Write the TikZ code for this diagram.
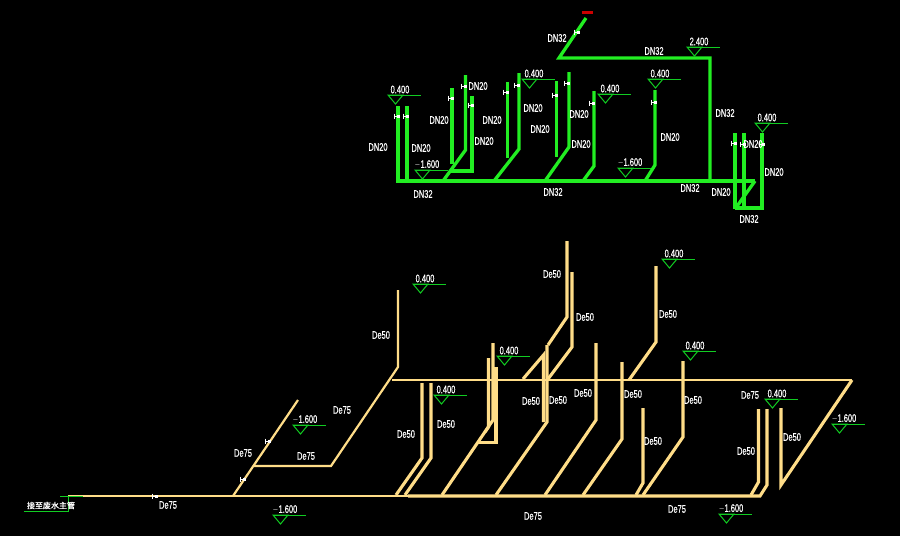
\documentclass[tikz,border=0pt]{standalone}
\usepackage{fontspec}
\setmainfont{Liberation Sans}
\newfontfamily\labfont[FakeBold=0.5]{Liberation Sans}
\newfontfamily\cjk[FakeBold=1.2]{Noto Sans CJK SC}
\definecolor{gpipe}{HTML}{22EE22}
\definecolor{ypipe}{HTML}{FFDD88}
\definecolor{gline}{HTML}{11CC22}
\tikzset{
  gp/.style={draw=gpipe,line width=3.3pt,line join=miter},
  yp/.style={draw=ypipe,line width=3.1pt,line join=miter},
  ypthin/.style={draw=ypipe,line width=2.2pt},
  lvl/.style={draw=gline,line width=1pt},
  lab/.style={text=white,font=\labfont\fontsize{11}{11}\selectfont,inner sep=0pt,xscale=.68,transform shape},
  vlv/.style={draw=white,line width=1pt},
}
\newcommand{\elev}[3]{%
  \draw[lvl] (#1,#2) -- ++(33,0);
  \draw[lvl] (#1,#2) -- ++(15,0) -- ++(-7.5,9) -- cycle;
  \node[lab] at (#1+12,#2-5.5) {#3};
}
\newcommand{\valve}[2]{%
  \draw[vlv] (#1-3,#2-2.5) -- (#1-3,#2+2.5) (#1-3,#2) -- (#1+3,#2);
  \fill[white] (#1,#2-1.5) rectangle (#1+2.5,#2+1.5);
}
\begin{document}
\begin{tikzpicture}[x=1pt,y=-1pt]
\useasboundingbox (0,0) rectangle (900,536);
\fill[black] (0,0) rectangle (900,536);
% green pipework
\draw[gp] (398,181) -- (755,181);
\draw[gp] (398,183) -- (398,106);
\draw[gp] (407,183) -- (407,106);
\draw[gp] (443,181) -- (465.5,150) -- (465.5,75);
\draw[gp] (452,88) -- (452,164);
\draw[gp] (451,171) -- (472,171) -- (472,96);
\draw[gp] (494,181) -- (519,149) -- (519,73);
\draw[gp] (507.5,82) -- (507.5,158);
\draw[gp] (545,181) -- (569,147) -- (569,72);
\draw[gp] (556.5,81) -- (556.5,157);
\draw[gp] (583,181) -- (594,166) -- (594,91);
\draw[gp] (645,181) -- (655,165) -- (655,90);
\draw[gp] (710,181) -- (710,58) -- (559,58) -- (586,18);
\draw[gp] (735,133) -- (735,209);
\draw[gp] (744,133) -- (744,208);
\draw[gp] (735,208) -- (762,208) -- (762,133);
\draw[gp] (735,209) -- (755,181);
\fill[red!80!black] (582,11) rectangle (593,14);
\foreach \a/\b in {397/116,406/116,451/98,464/86,471/105,506/92,517/85,555/95,567/83,592/103,654/102,734/143,743/144,762/144,577/32}{\valve{\a}{\b}}
% green labels
\foreach \a/\b/\t in {378/147/DN20,421/148/DN20,439/120/DN20,478/86/DN20,484/141/DN20,492/120/DN20,533/108/DN20,540/129/DN20,579/114/DN20,581/144/DN20,670/137/DN20,721/192/DN20,753/144/DN20,774/172/DN20,557/38/DN32,423/194/DN32,553/192/DN32,654/51/DN32,725/113/DN32,690/188/DN32,749/219/DN32}{\node[lab] at (\a,\b) {\t};}
\elev{388}{95}{0.400}
\elev{415}{170}{$-$1.600}
\elev{522}{79}{0.400}
\elev{598}{94}{0.400}
\elev{687}{47}{2.400}
\elev{648}{79}{0.400}
\elev{618}{168}{$-$1.600}
\elev{755}{123}{0.400}
% yellow pipework
\draw[ypthin] (68,496) -- (408,496);
\draw[yp] (408,496) -- (760,496) -- (767,485) -- (767,409);
\draw[yp] (751,495) -- (758.5,482) -- (758.5,409);
\draw[ypthin] (233,496) -- (298,400);
\draw[ypthin] (254,466) -- (331,466) -- (398,367) -- (398,290);
\draw[ypthin] (392,380) -- (852,380);
\draw[yp] (852,380) -- (781,485) -- (781,408);
\draw[yp] (396,495) -- (422,458) -- (422,383);
\draw[yp] (405,495) -- (431,458) -- (431,383);
\draw[yp] (442,495) -- (493,420) -- (493,343);
\draw[yp] (485,432) -- (488.5,427) -- (488.5,358);
\draw[yp] (478,442.5) -- (496,442.5) -- (496,367);
\draw[yp] (496,495) -- (547,422) -- (547,345);
\draw[yp] (523,379) -- (543.5,355) -- (543.5,422);
\draw[yp] (545,495) -- (596,420) -- (596,343);
\draw[yp] (583,495) -- (622,439) -- (622,362);
\draw[yp] (636,495) -- (643,483) -- (643,408);
\draw[yp] (643,495) -- (683,437) -- (683,361);
\draw[yp] (629,380) -- (656,342) -- (656,266);
\draw[yp] (548,379) -- (572,347) -- (572,272);
\draw[yp] (548,345) -- (567,317) -- (567,241);
\foreach \a/\b in {155/496,243/479,268/441}{\valve{\a}{\b}}
% yellow labels
\foreach \a/\b/\t in {168/505/De75,243/453/De75,306/456/De75,342/410/De75,533/516/De75,677/509/De75,750/395/De75,381/335/De50,406/434/De50,446/424/De50,531/401/De50,558/400/De50,583/393/De50,552/274/De50,585/317/De50,668/314/De50,633/394/De50,693/400/De50,653/441/De50,746/451/De50,792/437/De50}{\node[lab] at (\a,\b) {\t};}
\elev{293}{425}{$-$1.600}
\elev{273}{515}{$-$1.600}
\elev{413}{284}{0.400}
\elev{497}{356}{0.400}
\elev{434}{395}{0.400}
\elev{662}{259}{0.400}
\elev{683}{351}{0.400}
\elev{765}{399}{0.400}
\elev{832}{424}{$-$1.600}
\elev{719}{514}{$-$1.600}
% outlet note
\draw[lvl] (60,496) -- (83,496);
\draw[lvl] (68,496) -- (68,511) -- (24,511);
\node[text=white,font=\cjk\fontsize{8}{8}\selectfont,inner sep=0pt] at (51,505.5) {接至废水主管};
\end{tikzpicture}
\end{document}
